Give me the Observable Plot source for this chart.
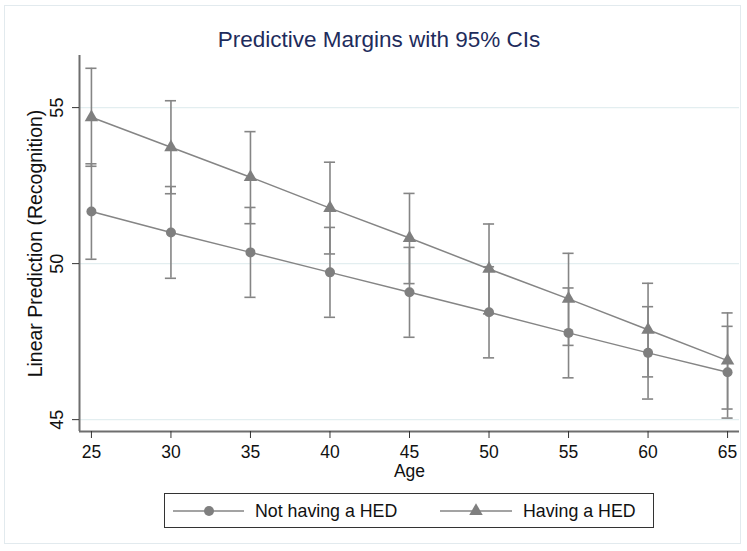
<!DOCTYPE html>
<html>
<head>
<meta charset="utf-8">
<script src="https://cdn.jsdelivr.net/npm/d3@7"></script>
<script src="https://cdn.jsdelivr.net/npm/@observablehq/plot@0.6"></script>
<style>
  html, body { margin: 0; padding: 0; background: #fff; }
  #wrap { position: relative; width: 747px; height: 551px; overflow: hidden; font-family: "Liberation Sans", Arial, sans-serif; }
  #frame { position: absolute; left: 4px; top: 5px; width: 737px; height: 539px; border: 1px solid #e2eaee; box-sizing: border-box; }
  #title { position: absolute; left: 0; width: 758px; top: 27px; text-align: center; font-size: 22.5px; color: #1e2c5c; }
  #chart { position: absolute; left: 0; top: 0; }
  #legend { position: absolute; left: 164px; top: 493px; width: 490px; height: 35px; box-sizing: border-box; border: 1.3px solid #333; }
  #legend svg { position: absolute; left: -164px; top: -493px; overflow: visible; }
</style>
</head>
<body>
<div id="wrap">
  <div id="frame"></div>
  <div id="chart"></div>
  <div id="title"></div>
  <div id="legend"></div>
</div>
<script>
const titleText = "Predictive Margins with 95% CIs";
const xLabel = "Age";
const yLabel = "Linear Prediction (Recognition)";
const seriesNames = ["Not having a HED", "Having a HED"];

const ages = [25, 30, 35, 40, 45, 50, 55, 60, 65];
const notHED     = [51.67, 51.00, 50.36, 49.72, 49.08, 48.44, 47.78, 47.14, 46.52];
const notHEDLow  = [50.14, 49.53, 48.92, 48.28, 47.64, 46.98, 46.34, 45.66, 45.05];
const notHEDHigh = [53.20, 52.47, 51.80, 51.16, 50.52, 49.90, 49.22, 48.62, 47.99];
const HED        = [54.69, 53.73, 52.77, 51.78, 50.82, 49.83, 48.87, 47.88, 46.89];
const HEDLow     = [53.12, 52.24, 51.28, 50.31, 49.36, 48.39, 47.38, 46.37, 45.34];
const HEDHigh    = [56.26, 55.22, 54.23, 53.25, 52.25, 51.27, 50.33, 49.37, 48.42];
const xTicks = [25, 30, 35, 40, 45, 50, 55, 60, 65];
const yTicks = [45, 50, 55];

const symbols = ["circle", "triangle"];
const rows = [];
ages.forEach((a, i) => {
  rows.push({age: a, s: seriesNames[0], v: notHED[i], lo: notHEDLow[i], hi: notHEDHigh[i]});
  rows.push({age: a, s: seriesNames[1], v: HED[i], lo: HEDLow[i], hi: HEDHigh[i]});
});

const gray = "#858585";
const xDom = [24.25, 65.75];
const yDom = [44.62, 56.67];
const capHalf = 0.35;

document.getElementById("title").textContent = titleText;

const chart = Plot.plot({
  width: 747,
  height: 551,
  marginLeft: 79,
  marginRight: 8,
  marginTop: 55,
  marginBottom: 120,
  style: {background: "transparent", fontFamily: "'Liberation Sans', Arial, sans-serif", fontSize: "17px", color: "#111"},
  x: {domain: xDom},
  y: {domain: yDom},
  marks: [
    Plot.gridY(yTicks, {stroke: "#e3eef0", strokeOpacity: 1, strokeWidth: 1.3}),
    Plot.ruleX(rows, {x: "age", y1: "lo", y2: "hi", stroke: gray, strokeWidth: 1.6}),
    Plot.ruleY(rows, {y: "lo", x1: d => d.age - capHalf, x2: d => d.age + capHalf, stroke: gray, strokeWidth: 1.6}),
    Plot.ruleY(rows, {y: "hi", x1: d => d.age - capHalf, x2: d => d.age + capHalf, stroke: gray, strokeWidth: 1.6}),
    Plot.line(rows, {x: "age", y: "v", z: "s", stroke: gray, strokeWidth: 1.5}),
    Plot.dot(rows.filter(d => d.s === seriesNames[0]), {x: "age", y: "v", r: 5, symbol: "circle", fill: "#7f7f7f", stroke: "none"}),
    Plot.dot(rows.filter(d => d.s === seriesNames[1]), {x: "age", y: "v", r: 5, symbol: "triangle", fill: "#7f7f7f", stroke: "none"}),
    Plot.ruleX([xDom[0]], {stroke: "#6e6e6e", strokeWidth: 2}),
    Plot.ruleY([yDom[0]], {stroke: "#6e6e6e", strokeWidth: 2}),
    Plot.axisX({ticks: xTicks, tickSize: 7, tickPadding: 7, label: null, stroke: "#333", fontSize: 17.5}),
    Plot.axisY({ticks: yTicks, tickSize: 7, tickPadding: 10, tickRotate: -90, label: null, stroke: "#333", fontSize: 18}),
    Plot.text([xLabel], {frameAnchor: "bottom", dy: 45, fontSize: 17.5, fill: "#111"}),
    Plot.text([yLabel], {frameAnchor: "left", textAnchor: "middle", dx: -44, rotate: -90, fontSize: 19.5, fill: "#111"})
  ]
});
document.getElementById("chart").appendChild(chart);

// Legend
const lsvg = d3.select("#legend").append("svg").attr("width", 747).attr("height", 551);
const items = [
  {name: seriesNames[0], sym: symbols[0], x0: 172, x1: 243, mx: 208, tx: 254},
  {name: seriesNames[1], sym: symbols[1], x0: 439, x1: 511, mx: 475, tx: 522}
];
const ly = 510;
items.forEach(it => {
  lsvg.append("line").attr("x1", it.x0).attr("x2", it.x1).attr("y1", ly).attr("y2", ly).attr("stroke", gray).attr("stroke-width", 1.5);
  const sym = it.sym === "circle" ? d3.symbolCircle : d3.symbolTriangle;
  lsvg.append("path").attr("d", d3.symbol(sym, Math.PI * 25)()).attr("transform", `translate(${it.mx},${ly})`).attr("fill", "#7f7f7f");
  lsvg.append("text").attr("x", it.tx).attr("y", ly).attr("dy", "0.35em").attr("font-size", 17.8).attr("fill", "#111").attr("font-family", "'Liberation Sans', Arial, sans-serif").text(it.name);
});
</script>
</body>
</html>
